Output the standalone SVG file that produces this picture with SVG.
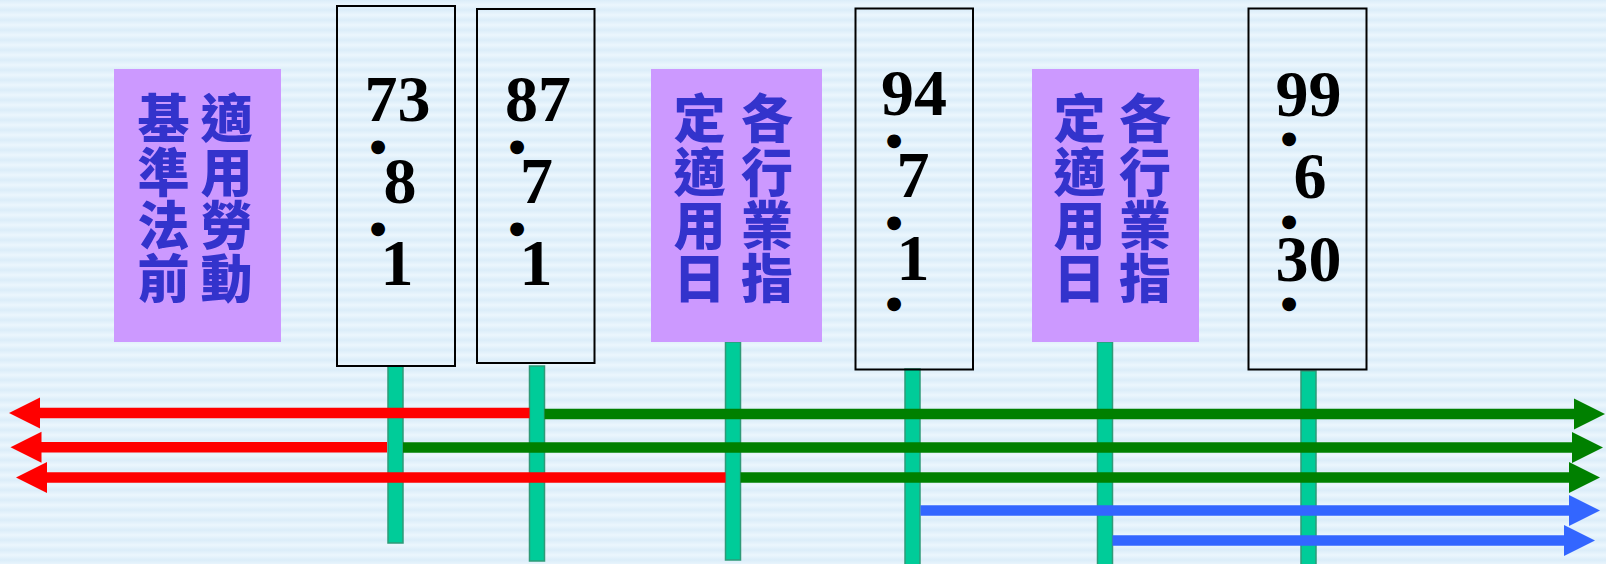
<svg xmlns="http://www.w3.org/2000/svg" width="1606" height="564" viewBox="0 0 1606 564">
<style>
.bg{fill:url(#stripes)}
.label{fill:#cc99ff}
.cjk{font-family:"Noto Sans CJK TC","Noto Sans CJK SC",sans-serif;font-weight:900;font-size:52px;fill:#3333cc;writing-mode:vertical-rl;letter-spacing:1.3px}
.datebox{fill:none;stroke:#000;stroke-width:2}
.num{font-family:"Liberation Serif","Times New Roman",serif;font-weight:bold;font-size:66px;fill:#000;text-anchor:middle}
.dot{font-family:"DejaVu Sans",sans-serif;font-size:18px;fill:#000;text-anchor:middle}
.pole{fill:#00cc99;stroke:#2f9a78;stroke-width:1.5}
.red{stroke:#ff0000;stroke-width:10.5;fill:none;marker-end:url(#hr)}
.green{stroke:#008000;stroke-width:10.5;fill:none;marker-end:url(#hg)}
.blue{stroke:#3366ff;stroke-width:10.5;fill:none;marker-end:url(#hb)}
</style>
<defs>
<linearGradient id="sg" x1="0" y1="0" x2="0" y2="1">
<stop offset="0" stop-color="#dbedf9"/>
<stop offset="0.5" stop-color="#ebf6fd"/>
<stop offset="1" stop-color="#dbedf9"/>
</linearGradient>
<pattern id="stripes" width="10" height="10" patternUnits="userSpaceOnUse">
<rect width="10" height="10" fill="url(#sg)"/>
</pattern>
<marker id="hr" markerUnits="userSpaceOnUse" markerWidth="32" markerHeight="32" refX="1" refY="15.5" orient="auto" viewBox="0 0 32 31">
<path d="M0,0 L31,15.5 L0,31 Z" fill="#ff0000"/>
</marker>
<marker id="hg" markerUnits="userSpaceOnUse" markerWidth="32" markerHeight="32" refX="1" refY="15.5" orient="auto" viewBox="0 0 32 31">
<path d="M0,0 L31,15.5 L0,31 Z" fill="#008000"/>
</marker>
<marker id="hb" markerUnits="userSpaceOnUse" markerWidth="32" markerHeight="32" refX="1" refY="15.5" orient="auto" viewBox="0 0 32 31">
<path d="M0,0 L31,15.5 L0,31 Z" fill="#3366ff"/>
</marker>
</defs>
<rect class="bg" x="0" y="0" width="1606" height="564"/>

<g id="poles">
<rect class="pole" x="388" y="366" width="15" height="177"/>
<rect class="pole" x="529.5" y="366" width="15" height="195"/>
<rect class="pole" x="725.5" y="342" width="15" height="218"/>
<rect class="pole" x="905" y="369" width="15" height="200"/>
<rect class="pole" x="1097.5" y="342" width="15" height="227"/>
<rect class="pole" x="1301" y="371" width="15" height="198"/>
</g>

<g id="label-before">
<rect class="label" x="114" y="69" width="167" height="273"/>
<text class="cjk" x="226.5" y="92.5">適用勞動</text>
<text class="cjk" x="163.5" y="92.5">基準法前</text>
</g>

<g id="date-73">
<rect class="datebox" x="337" y="6" width="118" height="360"/>
<text class="num" x="397.5" y="121">73</text>
<text class="dot" x="378" y="151.5">●</text>
<text class="num" x="400" y="203">8</text>
<text class="dot" x="378" y="234">●</text>
<text class="num" x="397" y="285">1</text>
</g>

<g id="date-87">
<rect class="datebox" x="477" y="9" width="117.5" height="354"/>
<text class="num" x="538" y="121">87</text>
<text class="dot" x="517" y="151.5">●</text>
<text class="num" x="536.5" y="203">7</text>
<text class="dot" x="517" y="234">●</text>
<text class="num" x="536" y="285">1</text>
</g>

<g id="label-industry-1">
<rect class="label" x="651" y="69" width="171" height="273"/>
<text class="cjk" x="767" y="92.5">各行業指</text>
<text class="cjk" x="699.5" y="92.5">定適用日</text>
</g>

<g id="date-94">
<rect class="datebox" x="855.5" y="8.5" width="117.5" height="361"/>
<text class="num" x="914" y="115">94</text>
<text class="dot" x="894" y="146">●</text>
<text class="num" x="913" y="197">7</text>
<text class="dot" x="894" y="227.5">●</text>
<text class="num" x="913" y="280">1</text>
<text class="dot" x="894" y="309">●</text>
</g>

<g id="label-industry-2">
<rect class="label" x="1032" y="69" width="167" height="273"/>
<text class="cjk" x="1145" y="92.5">各行業指</text>
<text class="cjk" x="1079.5" y="92.5">定適用日</text>
</g>

<g id="date-99">
<rect class="datebox" x="1248.5" y="8.5" width="118" height="361"/>
<text class="num" x="1308.5" y="116">99</text>
<text class="dot" x="1289" y="143.5">●</text>
<text class="num" x="1310" y="198">6</text>
<text class="dot" x="1289" y="226.5">●</text>
<text class="num" x="1308.5" y="280.5">30</text>
<text class="dot" x="1289" y="309">●</text>
</g>

<g id="connectors">
<line class="red" x1="529.5" y1="413" x2="39" y2="413"/>
<line class="red" x1="387" y1="447.3" x2="40.5" y2="447.3"/>
<line class="red" x1="725.5" y1="477.5" x2="46" y2="477.5"/>
<line class="green" x1="544.5" y1="414" x2="1575" y2="414"/>
<line class="green" x1="403" y1="447.5" x2="1573" y2="447.5"/>
<line class="green" x1="740.5" y1="477.5" x2="1570" y2="477.5"/>
<line class="blue" x1="920.5" y1="510.5" x2="1570" y2="510.5"/>
<line class="blue" x1="1112.5" y1="540.5" x2="1565" y2="540.5"/>
</g>
</svg>
